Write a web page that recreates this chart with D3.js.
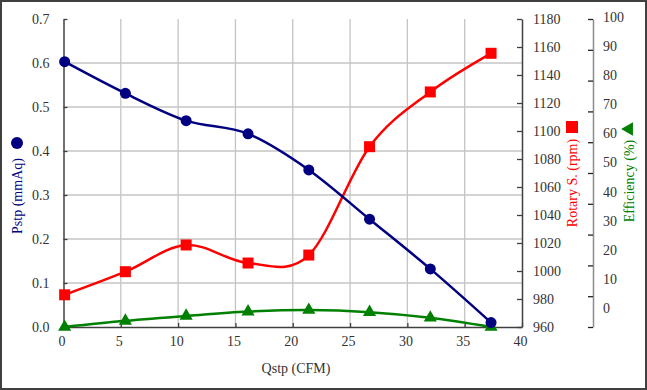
<!DOCTYPE html>
<html>
<head>
<meta charset="utf-8">
<script src="https://cdn.jsdelivr.net/npm/d3@7"></script>
<style>
  body { margin: 0; background: #fff; }
  svg text { font-family: "Liberation Serif", Tinos, "Times New Roman", Times, "DejaVu Serif", serif; }
</style>
</head>
<body>
<div id="chart"></div>
<script>
var w = 647
var h = 390
var serif = '"Liberation Serif", Tinos, "Times New Roman", Times, "DejaVu Serif", serif'

// data
var qstp = [0.1, 5.4, 10.7, 16.1, 21.4, 26.7, 32.0, 37.3]
var pstp = [0.603, 0.531, 0.469, 0.439, 0.357, 0.245, 0.132, 0.010]
var rpm = [983, 999.5, 1018.6, 1005.7, 1011.4, 1088.8, 1127.9, 1155.5]
var eff = [0, 2.0, 3.6, 5.0, 5.5, 4.8, 3.0, 0]

var xTicks = [0, 5, 10, 15, 20, 25, 30, 35, 40]
var pTicks = [0, 0.1, 0.2, 0.3, 0.4, 0.5, 0.6, 0.7]
var rTicks = [960, 980, 1000, 1020, 1040, 1060, 1080, 1100, 1120, 1140, 1160, 1180]
var eTicks = [0, 10, 20, 30, 40, 50, 60, 70, 80, 90, 100]

var navy = '#000080', red = '#ff0000', green = '#008000'

var x = d3.scaleLinear().domain([0, 40]).range([63.5, 522])
var yP = d3.scaleLinear().domain([0, 0.7]).range([327, 19])
var yR = d3.scaleLinear().domain([960, 1180]).range([327, 19])
var yE = d3.scaleLinear().domain([0, 100]).range([327, 19])
// the efficiency labels in the original sit a bit off their ticks
var yELab = d3.scaleLinear().domain([0, 100]).range([308, 17])

var svg = d3.select('#chart')
  .append('svg')
  .attr('width', w)
  .attr('height', h)
  .attr('font-family', serif)

// outer frame
svg.append('rect')
  .attr('x', 1).attr('y', 1)
  .attr('width', w - 2).attr('height', h - 2)
  .attr('fill', '#fff')
  .attr('stroke', '#404040')
  .attr('stroke-width', 2)

// grid
svg.selectAll('.hgrid')
  .data(pTicks.filter(d => d > 0 && d < 0.7))
  .enter()
  .append('line')
  .attr('class', 'hgrid')
  .attr('x1', x(0)).attr('x2', x(40))
  .attr('y1', d => yP(d)).attr('y2', d => yP(d))
  .attr('stroke', '#c4c4c4')
  .attr('stroke-width', 1.3)

svg.selectAll('.vgrid')
  .data(xTicks.filter(d => d > 0 && d < 40))
  .enter()
  .append('line')
  .attr('class', 'vgrid')
  .attr('x1', d => x(d)).attr('x2', d => x(d))
  .attr('y1', yP(0.7)).attr('y2', yP(0))
  .attr('stroke', '#c4c4c4')
  .attr('stroke-width', 1.3)

function styleAxis(g, col) {
  g.attr('font-family', serif)
  g.select('.domain').attr('stroke', col).attr('stroke-width', 1.5)
  g.selectAll('.tick line').attr('stroke', col).attr('stroke-width', 1.3)
  g.selectAll('.tick text')
    .attr('fill', '#333')
    .style('font-size', '14px')
    .style('font-family', serif)
}

// left axis
var gL = svg.append('g')
  .attr('transform', 'translate(' + x(0) + ',0)')
  .call(d3.axisLeft(yP).tickValues(pTicks).tickFormat(d3.format('.1f'))
    .tickSizeInner(-4).tickSizeOuter(0).tickPadding(14))
styleAxis(gL, '#404040')

// bottom axis
var gB = svg.append('g')
  .attr('transform', 'translate(0,' + yP(0) + ')')
  .call(d3.axisBottom(x).tickValues(xTicks).tickFormat(d3.format('d'))
    .tickSizeInner(-4).tickSizeOuter(0).tickPadding(9))
styleAxis(gB, '#404040')
gB.selectAll('.tick text').attr('dx', -2)

// rpm axis
var gR = svg.append('g')
  .attr('transform', 'translate(' + x(40) + ',0)')
  .call(d3.axisRight(yR).tickValues(rTicks).tickFormat(d3.format('d'))
    .tickSizeInner(-5).tickSizeOuter(0).tickPadding(11))
styleAxis(gR, '#404040')

// efficiency axis
var gE = svg.append('g')
  .attr('transform', 'translate(593,0)')
  .call(d3.axisRight(yE).tickValues(eTicks).tickFormat('')
    .tickSizeInner(-5).tickSizeOuter(0))
gE.select('.domain').attr('stroke', '#8c8c8c').attr('stroke-width', 1.5)
gE.selectAll('.tick line').attr('stroke', '#222').attr('stroke-width', 1.3)

svg.selectAll('.elab')
  .data(eTicks)
  .enter()
  .append('text')
  .attr('class', 'elab')
  .attr('x', 603)
  .attr('y', d => yELab(d))
  .attr('dy', '0.35em')
  .attr('fill', '#333')
  .style('font-size', '14px')
  .style('font-family', serif)
  .text(d => d)

// lines
var lineP = d3.line().curve(d3.curveCardinal).x((d, i) => x(qstp[i])).y(d => yP(d))
var lineR = d3.line().curve(d3.curveCardinal).x((d, i) => x(qstp[i])).y(d => yR(d))
var lineE = d3.line().curve(d3.curveCardinal).x((d, i) => x(qstp[i])).y(d => yE(d))

svg.append('path').datum(eff).attr('d', lineE)
  .attr('fill', 'none').attr('stroke', green).attr('stroke-width', 2.5)
svg.append('path').datum(rpm).attr('d', lineR)
  .attr('fill', 'none').attr('stroke', red).attr('stroke-width', 2.5)
svg.append('path').datum(pstp).attr('d', lineP)
  .attr('fill', 'none').attr('stroke', navy).attr('stroke-width', 2.5)

// markers
var tri = d3.symbol().type(d3.symbolTriangle).size(75)

svg.selectAll('.mE')
  .data(eff)
  .enter()
  .append('path')
  .attr('class', 'mE')
  .attr('d', tri)
  .attr('transform', (d, i) => 'translate(' + x(qstp[i]) + ',' + yE(d) + ')')
  .attr('fill', green)

svg.selectAll('.mR')
  .data(rpm)
  .enter()
  .append('rect')
  .attr('class', 'mR')
  .attr('x', (d, i) => x(qstp[i]) - 5.5)
  .attr('y', d => yR(d) - 5.5)
  .attr('width', 11).attr('height', 11)
  .attr('fill', red)

svg.selectAll('.mP')
  .data(pstp)
  .enter()
  .append('circle')
  .attr('class', 'mP')
  .attr('cx', (d, i) => x(qstp[i]))
  .attr('cy', d => yP(d))
  .attr('r', 5.5)
  .attr('fill', navy)

// titles
function title(txt, tf, col) {
  svg.append('text')
    .attr('transform', tf)
    .attr('text-anchor', 'middle')
    .attr('fill', col)
    .style('font-size', '14px')
    .style('font-family', serif)
    .text(txt)
}

title('Qstp (CFM)', 'translate(296,373)', '#333')
title('Pstp (mmAq)', 'translate(22,196) rotate(-90)', navy)
title('Rotary S. (rpm)', 'translate(577,183) rotate(-90)', red)
title('Efficiency (%)', 'translate(634,181) rotate(-90)', green)

svg.append('circle')
  .attr('cx', 17).attr('cy', 143).attr('r', 6)
  .attr('fill', navy)
svg.append('rect')
  .attr('x', 566).attr('y', 121).attr('width', 12).attr('height', 12)
  .attr('fill', red)
svg.append('path')
  .attr('d', d3.symbol().type(d3.symbolTriangle).size(80))
  .attr('transform', 'translate(629,129) rotate(-90)')
  .attr('fill', green)
</script>
</body>
</html>
